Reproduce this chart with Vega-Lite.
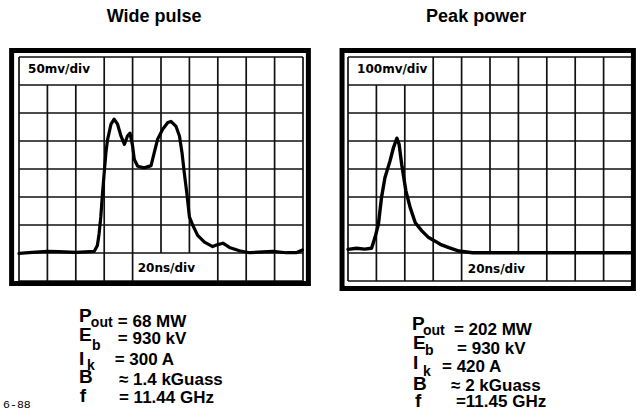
{
  "$schema": "https://vega.github.io/schema/vega-lite/v6.json",
  "background": "white",
  "padding": {"left": 3, "top": 8, "right": 0, "bottom": 0},
  "config": {"view": {"stroke": null}},
  "bounds": "flush",
  "spacing": 45,
  "datasets": {
    "grid": [
      {"x": 0, "x2": 0, "y": 0, "y2": 8},
      {"x": 1, "x2": 1, "y": 0, "y2": 7},
      {"x": 2, "x2": 2, "y": 0, "y2": 7},
      {"x": 3, "x2": 3, "y": 0, "y2": 8},
      {"x": 4, "x2": 4, "y": 0, "y2": 8},
      {"x": 5, "x2": 5, "y": 1, "y2": 8},
      {"x": 6, "x2": 6, "y": 1, "y2": 8},
      {"x": 7, "x2": 7, "y": 0, "y2": 8},
      {"x": 8, "x2": 8, "y": 0, "y2": 8},
      {"x": 9, "x2": 9, "y": 0, "y2": 8},
      {"x": 10, "x2": 10, "y": 0, "y2": 8},
      {"x": 0, "x2": 10, "y": 0, "y2": 0},
      {"x": 0, "x2": 10, "y": 1, "y2": 1},
      {"x": 0, "x2": 10, "y": 2, "y2": 2},
      {"x": 0, "x2": 10, "y": 3, "y2": 3},
      {"x": 0, "x2": 10, "y": 4, "y2": 4},
      {"x": 0, "x2": 10, "y": 5, "y2": 5},
      {"x": 0, "x2": 10, "y": 6, "y2": 6},
      {"x": 0, "x2": 10, "y": 7, "y2": 7},
      {"x": 0, "x2": 10, "y": 8, "y2": 8}
    ],
    "frame": [
      {"panel": "Wide pulse", "x": -0.26, "x2": 10.19, "y": -0.09, "y2": 8.23},
      {"panel": "Peak power", "x": -0.21, "x2": 10.05, "y": -0.27, "y2": 8.23}
    ],
    "trace": [
      {"panel": "Wide pulse", "t": 0, "v": 0.99},
      {"panel": "Wide pulse", "t": 0.47, "v": 1.02},
      {"panel": "Wide pulse", "t": 1.0, "v": 1.06},
      {"panel": "Wide pulse", "t": 1.41, "v": 1.05},
      {"panel": "Wide pulse", "t": 2.0, "v": 1.02},
      {"panel": "Wide pulse", "t": 2.65, "v": 1.06},
      {"panel": "Wide pulse", "t": 2.76, "v": 1.27},
      {"panel": "Wide pulse", "t": 2.82, "v": 1.69},
      {"panel": "Wide pulse", "t": 2.88, "v": 2.29},
      {"panel": "Wide pulse", "t": 2.94, "v": 3.13},
      {"panel": "Wide pulse", "t": 3.0, "v": 3.86},
      {"panel": "Wide pulse", "t": 3.06, "v": 4.58},
      {"panel": "Wide pulse", "t": 3.12, "v": 5.06},
      {"panel": "Wide pulse", "t": 3.24, "v": 5.6},
      {"panel": "Wide pulse", "t": 3.35, "v": 5.78},
      {"panel": "Wide pulse", "t": 3.47, "v": 5.6},
      {"panel": "Wide pulse", "t": 3.59, "v": 5.18},
      {"panel": "Wide pulse", "t": 3.71, "v": 4.88},
      {"panel": "Wide pulse", "t": 3.82, "v": 5.18},
      {"panel": "Wide pulse", "t": 3.91, "v": 5.28},
      {"panel": "Wide pulse", "t": 4.0, "v": 4.82},
      {"panel": "Wide pulse", "t": 4.06, "v": 4.34},
      {"panel": "Wide pulse", "t": 4.18, "v": 4.1},
      {"panel": "Wide pulse", "t": 4.41, "v": 4.04},
      {"panel": "Wide pulse", "t": 4.65, "v": 4.12},
      {"panel": "Wide pulse", "t": 4.76, "v": 4.58},
      {"panel": "Wide pulse", "t": 4.88, "v": 5.06},
      {"panel": "Wide pulse", "t": 5.06, "v": 5.42},
      {"panel": "Wide pulse", "t": 5.24, "v": 5.66},
      {"panel": "Wide pulse", "t": 5.35, "v": 5.7},
      {"panel": "Wide pulse", "t": 5.53, "v": 5.52},
      {"panel": "Wide pulse", "t": 5.65, "v": 5.18},
      {"panel": "Wide pulse", "t": 5.74, "v": 4.58},
      {"panel": "Wide pulse", "t": 5.82, "v": 3.86},
      {"panel": "Wide pulse", "t": 5.91, "v": 3.13},
      {"panel": "Wide pulse", "t": 6.0, "v": 2.29},
      {"panel": "Wide pulse", "t": 6.12, "v": 1.99},
      {"panel": "Wide pulse", "t": 6.29, "v": 1.63},
      {"panel": "Wide pulse", "t": 6.53, "v": 1.39},
      {"panel": "Wide pulse", "t": 6.82, "v": 1.23},
      {"panel": "Wide pulse", "t": 7.0, "v": 1.3},
      {"panel": "Wide pulse", "t": 7.18, "v": 1.35},
      {"panel": "Wide pulse", "t": 7.41, "v": 1.2},
      {"panel": "Wide pulse", "t": 7.76, "v": 1.08},
      {"panel": "Wide pulse", "t": 8.12, "v": 1.01},
      {"panel": "Wide pulse", "t": 8.59, "v": 1.04},
      {"panel": "Wide pulse", "t": 8.94, "v": 1.06},
      {"panel": "Wide pulse", "t": 9.41, "v": 1.01},
      {"panel": "Wide pulse", "t": 9.76, "v": 1.01},
      {"panel": "Wide pulse", "t": 9.98, "v": 1.11},
      {"panel": "Peak power", "t": 0, "v": 1.13},
      {"panel": "Peak power", "t": 0.3, "v": 1.17},
      {"panel": "Peak power", "t": 0.59, "v": 1.14},
      {"panel": "Peak power", "t": 0.83, "v": 1.17},
      {"panel": "Peak power", "t": 0.95, "v": 1.55},
      {"panel": "Peak power", "t": 1.07, "v": 2.02},
      {"panel": "Peak power", "t": 1.18, "v": 2.98},
      {"panel": "Peak power", "t": 1.3, "v": 3.69},
      {"panel": "Peak power", "t": 1.48, "v": 4.29},
      {"panel": "Peak power", "t": 1.6, "v": 4.76},
      {"panel": "Peak power", "t": 1.72, "v": 5.1},
      {"panel": "Peak power", "t": 1.8, "v": 4.88},
      {"panel": "Peak power", "t": 1.89, "v": 4.17},
      {"panel": "Peak power", "t": 2.04, "v": 3.21},
      {"panel": "Peak power", "t": 2.19, "v": 2.62},
      {"panel": "Peak power", "t": 2.37, "v": 2.08},
      {"panel": "Peak power", "t": 2.6, "v": 1.79},
      {"panel": "Peak power", "t": 2.84, "v": 1.55},
      {"panel": "Peak power", "t": 3.02, "v": 1.45},
      {"panel": "Peak power", "t": 3.25, "v": 1.31},
      {"panel": "Peak power", "t": 3.55, "v": 1.19},
      {"panel": "Peak power", "t": 3.91, "v": 1.07},
      {"panel": "Peak power", "t": 4.38, "v": 1.01},
      {"panel": "Peak power", "t": 6.04, "v": 1.01},
      {"panel": "Peak power", "t": 10, "v": 1.01}
    ],
    "titles": [
      {"panel": "Wide pulse", "x": 3.09, "y": 9.25, "text": "Wide pulse"},
      {"panel": "Peak power", "x": 2.75, "y": 9.25, "text": "Peak power"}
    ],
    "scalelabels": [
      {"panel": "Wide pulse", "x": 0.32, "y": 7.43, "text": "50mv/div"},
      {"panel": "Wide pulse", "x": 4.18, "y": 0.32, "text": "20ns/div"},
      {"panel": "Peak power", "x": 0.32, "y": 7.43, "text": "100mv/div"},
      {"panel": "Peak power", "x": 4.22, "y": 0.29, "text": "20ns/div"}
    ],
    "params": [
      {"panel": "Wide pulse", "part": "symbol", "x": 2.11, "y": -1.46, "text": "P"},
      {"panel": "Wide pulse", "part": "subscript", "x": 2.53, "y": -1.64, "text": "out"},
      {"panel": "Wide pulse", "part": "value", "x": 3.48, "y": -1.64, "text": "= 68 MW"},
      {"panel": "Wide pulse", "part": "symbol", "x": 2.11, "y": -2.14, "text": "E"},
      {"panel": "Wide pulse", "part": "subscript", "x": 2.57, "y": -2.46, "text": "b"},
      {"panel": "Wide pulse", "part": "value", "x": 3.48, "y": -2.25, "text": "= 930 kV"},
      {"panel": "Wide pulse", "part": "symbol", "x": 2.11, "y": -3.0, "text": "I"},
      {"panel": "Wide pulse", "part": "subscript", "x": 2.39, "y": -3.18, "text": "k"},
      {"panel": "Wide pulse", "part": "value", "x": 3.37, "y": -3.0, "text": "= 300 A"},
      {"panel": "Wide pulse", "part": "symbol", "x": 2.11, "y": -3.64, "text": "B"},
      {"panel": "Wide pulse", "part": "value", "x": 3.52, "y": -3.71, "text": "≈ 1.4 kGuass"},
      {"panel": "Wide pulse", "part": "symbol", "x": 2.14, "y": -4.32, "text": "f"},
      {"panel": "Wide pulse", "part": "value", "x": 3.52, "y": -4.36, "text": "= 11.44 GHz"},
      {"panel": "Peak power", "part": "symbol", "x": 2.25, "y": -1.75, "text": "P"},
      {"panel": "Peak power", "part": "subscript", "x": 2.64, "y": -1.93, "text": "out"},
      {"panel": "Peak power", "part": "value", "x": 3.73, "y": -1.93, "text": "= 202 MW"},
      {"panel": "Peak power", "part": "symbol", "x": 2.29, "y": -2.43, "text": "E"},
      {"panel": "Peak power", "part": "subscript", "x": 2.71, "y": -2.64, "text": "b"},
      {"panel": "Peak power", "part": "value", "x": 3.84, "y": -2.61, "text": "= 930 kV"},
      {"panel": "Peak power", "part": "symbol", "x": 2.29, "y": -3.14, "text": "I"},
      {"panel": "Peak power", "part": "subscript", "x": 2.64, "y": -3.39, "text": "k"},
      {"panel": "Peak power", "part": "value", "x": 3.31, "y": -3.25, "text": "= 420 A"},
      {"panel": "Peak power", "part": "symbol", "x": 2.29, "y": -3.89, "text": "B"},
      {"panel": "Peak power", "part": "value", "x": 3.63, "y": -3.93, "text": "≈ 2 kGuass"},
      {"panel": "Peak power", "part": "symbol", "x": 2.36, "y": -4.5, "text": "f"},
      {"panel": "Peak power", "part": "value", "x": 3.8, "y": -4.5, "text": "=11.45 GHz"}
    ],
    "notes": [
      {"panel": "Wide pulse", "x": -0.56, "y": -4.54, "text": "6-88"}
    ]
  },
  "hconcat": [
    {
      "width": 284,
      "height": 224,
      "layer": [
        {
          "data": {"name": "grid"},
          "mark": {"type": "rule", "color": "#111111", "strokeWidth": 1.7},
          "encoding": {
            "x": {"field": "x", "type": "quantitative", "scale": {"domain": [0, 10], "nice": false}, "axis": null},
            "x2": {"field": "x2"},
            "y": {"field": "y", "type": "quantitative", "scale": {"domain": [0, 8], "nice": false}, "axis": null},
            "y2": {"field": "y2"}
          }
        },
        {
          "data": {"name": "frame"},
          "transform": [{"filter": "datum.panel === 'Wide pulse'"}],
          "mark": {"type": "rect", "filled": false, "color": "black", "strokeWidth": 5},
          "encoding": {
            "x": {"field": "x", "type": "quantitative"},
            "x2": {"field": "x2"},
            "y": {"field": "y", "type": "quantitative"},
            "y2": {"field": "y2"}
          }
        },
        {
          "data": {"name": "trace"},
          "transform": [{"filter": "datum.panel === 'Wide pulse'"}],
          "mark": {"type": "line", "color": "black", "strokeWidth": 3.2, "strokeJoin": "round", "strokeCap": "round"},
          "encoding": {
            "x": {"field": "t", "type": "quantitative"},
            "y": {"field": "v", "type": "quantitative"}
          }
        },
        {
          "data": {"name": "scalelabels"},
          "transform": [{"filter": "datum.panel === 'Wide pulse'"}],
          "mark": {"type": "text", "align": "left", "baseline": "alphabetic", "font": "DejaVu Sans", "fontWeight": "bold", "fontSize": 12, "color": "black"},
          "encoding": {
            "x": {"field": "x", "type": "quantitative"},
            "y": {"field": "y", "type": "quantitative"},
            "text": {"field": "text"}
          }
        },
        {
          "data": {"name": "titles"},
          "transform": [{"filter": "datum.panel === 'Wide pulse'"}],
          "mark": {"type": "text", "align": "left", "baseline": "alphabetic", "font": "Liberation Sans", "fontWeight": "bold", "fontSize": 18, "color": "black"},
          "encoding": {
            "x": {"field": "x", "type": "quantitative"},
            "y": {"field": "y", "type": "quantitative"},
            "text": {"field": "text"}
          }
        },
        {
          "data": {"name": "params"},
          "transform": [{"filter": "datum.panel === 'Wide pulse' && datum.part === 'symbol'"}],
          "mark": {"type": "text", "align": "left", "baseline": "alphabetic", "font": "Liberation Sans", "fontWeight": "bold", "fontSize": 19, "color": "black"},
          "encoding": {
            "x": {"field": "x", "type": "quantitative"},
            "y": {"field": "y", "type": "quantitative"},
            "text": {"field": "text"}
          }
        },
        {
          "data": {"name": "params"},
          "transform": [{"filter": "datum.panel === 'Wide pulse' && datum.part === 'value'"}],
          "mark": {"type": "text", "align": "left", "baseline": "alphabetic", "font": "Liberation Sans", "fontWeight": "bold", "fontSize": 17, "color": "black"},
          "encoding": {
            "x": {"field": "x", "type": "quantitative"},
            "y": {"field": "y", "type": "quantitative"},
            "text": {"field": "text"}
          }
        },
        {
          "data": {"name": "params"},
          "transform": [{"filter": "datum.panel === 'Wide pulse' && datum.part === 'subscript'"}],
          "mark": {"type": "text", "align": "left", "baseline": "alphabetic", "font": "Liberation Sans", "fontWeight": "bold", "fontSize": 14, "color": "black"},
          "encoding": {
            "x": {"field": "x", "type": "quantitative"},
            "y": {"field": "y", "type": "quantitative"},
            "text": {"field": "text"}
          }
        },
        {
          "data": {"name": "notes"},
          "mark": {"type": "text", "align": "left", "baseline": "alphabetic", "font": "Liberation Mono", "fontSize": 11.5, "color": "black"},
          "encoding": {
            "x": {"field": "x", "type": "quantitative"},
            "y": {"field": "y", "type": "quantitative"},
            "text": {"field": "text"}
          }
        }
      ]
    },
    {
      "width": 284,
      "height": 224,
      "layer": [
        {
          "data": {"name": "grid"},
          "mark": {"type": "rule", "color": "#111111", "strokeWidth": 1.7},
          "encoding": {
            "x": {"field": "x", "type": "quantitative", "scale": {"domain": [0, 10], "nice": false}, "axis": null},
            "x2": {"field": "x2"},
            "y": {"field": "y", "type": "quantitative", "scale": {"domain": [0, 8], "nice": false}, "axis": null},
            "y2": {"field": "y2"}
          }
        },
        {
          "data": {"name": "frame"},
          "transform": [{"filter": "datum.panel === 'Peak power'"}],
          "mark": {"type": "rect", "filled": false, "color": "black", "strokeWidth": 5},
          "encoding": {
            "x": {"field": "x", "type": "quantitative"},
            "x2": {"field": "x2"},
            "y": {"field": "y", "type": "quantitative"},
            "y2": {"field": "y2"}
          }
        },
        {
          "data": {"name": "trace"},
          "transform": [{"filter": "datum.panel === 'Peak power'"}],
          "mark": {"type": "line", "color": "black", "strokeWidth": 3.4, "strokeJoin": "round", "strokeCap": "round"},
          "encoding": {
            "x": {"field": "t", "type": "quantitative"},
            "y": {"field": "v", "type": "quantitative"}
          }
        },
        {
          "data": {"name": "scalelabels"},
          "transform": [{"filter": "datum.panel === 'Peak power'"}],
          "mark": {"type": "text", "align": "left", "baseline": "alphabetic", "font": "DejaVu Sans", "fontWeight": "bold", "fontSize": 12, "color": "black"},
          "encoding": {
            "x": {"field": "x", "type": "quantitative"},
            "y": {"field": "y", "type": "quantitative"},
            "text": {"field": "text"}
          }
        },
        {
          "data": {"name": "titles"},
          "transform": [{"filter": "datum.panel === 'Peak power'"}],
          "mark": {"type": "text", "align": "left", "baseline": "alphabetic", "font": "Liberation Sans", "fontWeight": "bold", "fontSize": 18, "color": "black"},
          "encoding": {
            "x": {"field": "x", "type": "quantitative"},
            "y": {"field": "y", "type": "quantitative"},
            "text": {"field": "text"}
          }
        },
        {
          "data": {"name": "params"},
          "transform": [{"filter": "datum.panel === 'Peak power' && datum.part === 'symbol'"}],
          "mark": {"type": "text", "align": "left", "baseline": "alphabetic", "font": "Liberation Sans", "fontWeight": "bold", "fontSize": 19, "color": "black"},
          "encoding": {
            "x": {"field": "x", "type": "quantitative"},
            "y": {"field": "y", "type": "quantitative"},
            "text": {"field": "text"}
          }
        },
        {
          "data": {"name": "params"},
          "transform": [{"filter": "datum.panel === 'Peak power' && datum.part === 'value'"}],
          "mark": {"type": "text", "align": "left", "baseline": "alphabetic", "font": "Liberation Sans", "fontWeight": "bold", "fontSize": 17, "color": "black"},
          "encoding": {
            "x": {"field": "x", "type": "quantitative"},
            "y": {"field": "y", "type": "quantitative"},
            "text": {"field": "text"}
          }
        },
        {
          "data": {"name": "params"},
          "transform": [{"filter": "datum.panel === 'Peak power' && datum.part === 'subscript'"}],
          "mark": {"type": "text", "align": "left", "baseline": "alphabetic", "font": "Liberation Sans", "fontWeight": "bold", "fontSize": 14, "color": "black"},
          "encoding": {
            "x": {"field": "x", "type": "quantitative"},
            "y": {"field": "y", "type": "quantitative"},
            "text": {"field": "text"}
          }
        }
      ]
    }
  ]
}
